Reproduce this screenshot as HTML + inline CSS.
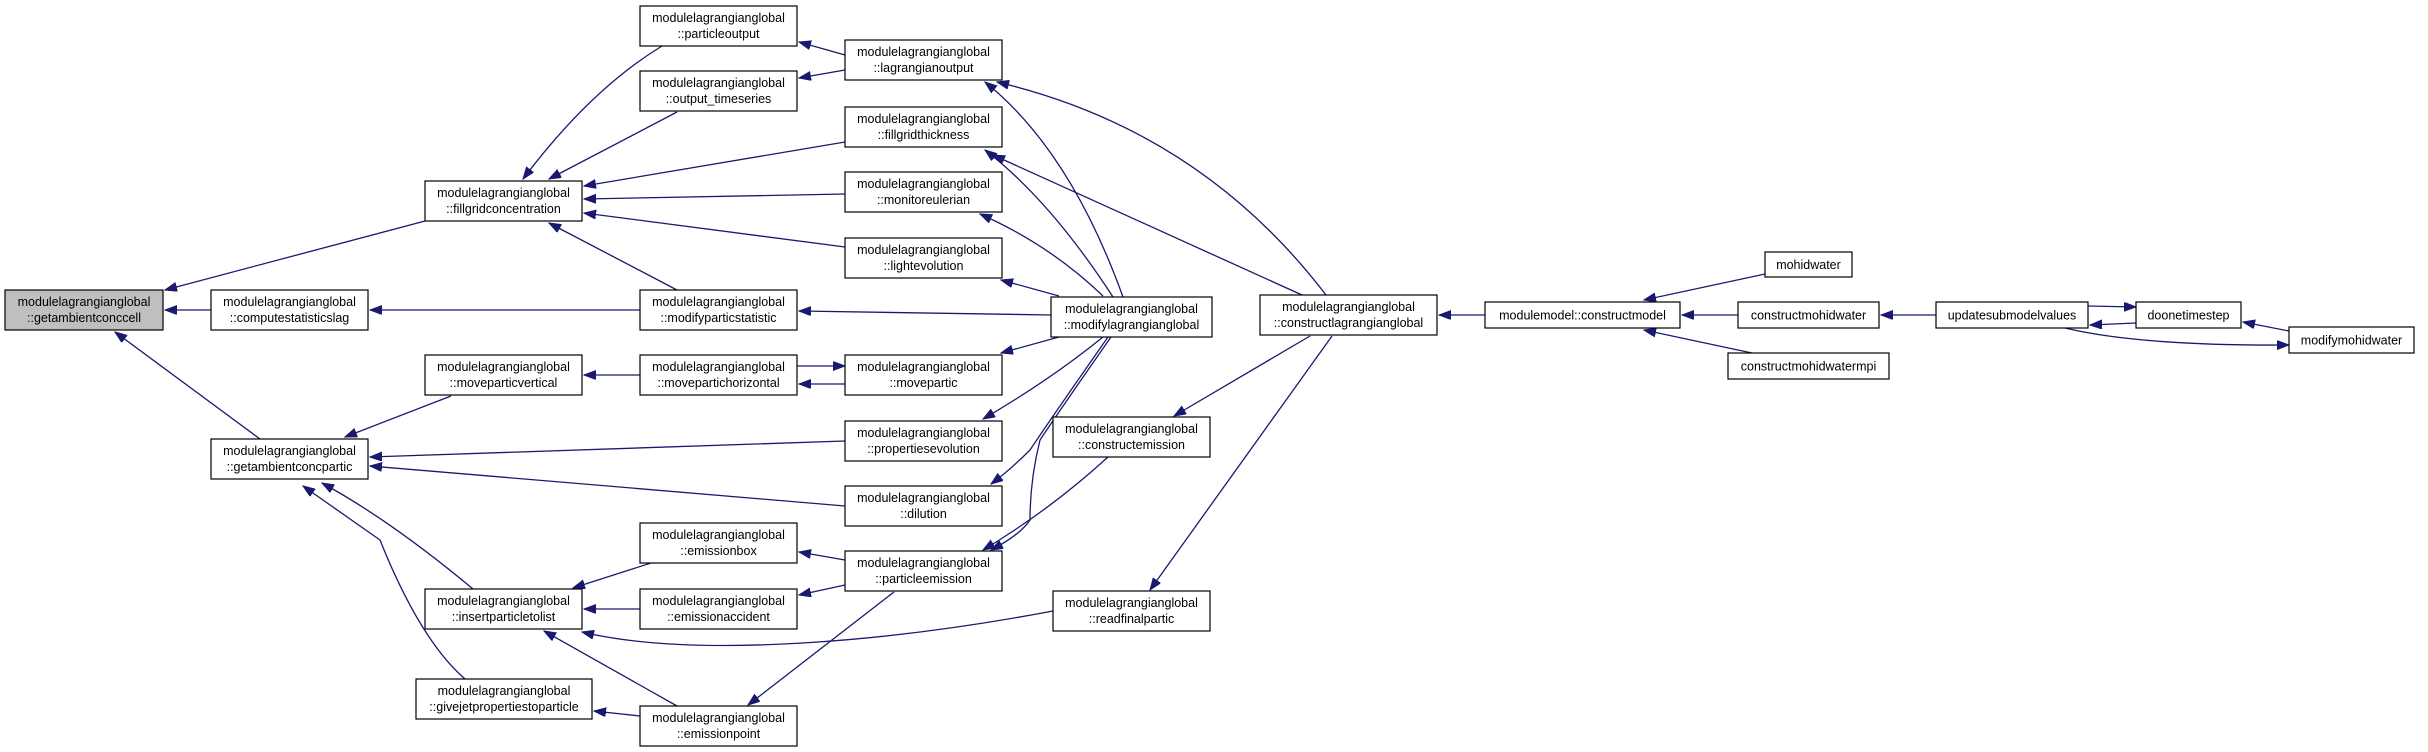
<!DOCTYPE html>
<html><head><meta charset="utf-8"><style>
html,body{margin:0;padding:0;background:#fff;}
svg{display:block;}
text{font-family:"Liberation Sans",Arial,sans-serif;font-size:12.5px;fill:#000;text-anchor:middle;}
.e{fill:none;stroke:#191970;stroke-width:1.3;marker-end:url(#a);}
rect{fill:#fff;stroke:#000;stroke-width:1.2;}
</style></head><body>
<svg width="2428" height="752" viewBox="0 0 2428 752" xmlns="http://www.w3.org/2000/svg">
<defs><marker id="a" markerUnits="userSpaceOnUse" markerWidth="13" markerHeight="10" refX="12" refY="4.5" orient="auto"><path d="M0,0 L12,4.5 L0,9 z" fill="#191970" stroke="#191970"/></marker></defs>
<g>
<path class="e" d="M211,310 L165,310"/>
<path class="e" d="M425,221 L165,290"/>
<path class="e" d="M260,439 L115,332"/>
<path class="e" d="M662,46 Q590,90 523,179"/>
<path class="e" d="M677,112 L549,179"/>
<path class="e" d="M845,142 L584,186"/>
<path class="e" d="M845,194 L584,199"/>
<path class="e" d="M845,247 L584,213"/>
<path class="e" d="M677,290 L549,223"/>
<path class="e" d="M640,310 L370,310"/>
<path class="e" d="M845,55 L799,42"/>
<path class="e" d="M845,70 L799,78"/>
<path class="e" d="M1123,297 Q1070,150 985,82"/>
<path class="e" d="M1113,297 Q1050,200 985,150"/>
<path class="e" d="M1302,295 L993,155"/>
<path class="e" d="M1326,295 Q1200,130 997,82"/>
<path class="e" d="M1103,296 Q1050,245 980,214"/>
<path class="e" d="M1059,296 L1001,280"/>
<path class="e" d="M1051,315 L799,311"/>
<path class="e" d="M1059,337 L1001,353"/>
<path class="e" d="M1103,337 Q1050,380 983,419"/>
<path class="e" d="M1108,337 Q1050,420 1030,450 Q1010,470 991,484"/>
<path class="e" d="M1111,337 Q1060,410 1040,440 Q1030,480 1030,520 Q1020,535 991,550"/>
<path class="e" d="M1310,336 L1174,416"/>
<path class="e" d="M1332,336 L1150,590"/>
<path class="e" d="M1108,457 Q1050,510 983,550"/>
<path class="e" d="M1485,315 L1439,315"/>
<path class="e" d="M1765,274 L1644,300"/>
<path class="e" d="M1738,315 L1682,315"/>
<path class="e" d="M1752,353 L1644,330"/>
<path class="e" d="M1936,315 L1881,315"/>
<path class="e" d="M2088,306 L2136,307"/>
<path class="e" d="M2136,323 L2090,325"/>
<path class="e" d="M2289,331 L2243,322"/>
<path class="e" d="M2065,328 Q2140,346 2289,345"/>
<path class="e" d="M640,375 L584,375"/>
<path class="e" d="M797,366 L845,366"/>
<path class="e" d="M845,384 L799,384"/>
<path class="e" d="M451,396 L345,437"/>
<path class="e" d="M845,441 L370,457"/>
<path class="e" d="M845,506 L370,466"/>
<path class="e" d="M473,589 Q390,520 322,483"/>
<path class="e" d="M465,679 Q420,640 380,540 L303,486"/>
<path class="e" d="M651,563 L573,588"/>
<path class="e" d="M640,609 L584,609"/>
<path class="e" d="M1053,611 C900,640 700,660 582,632"/>
<path class="e" d="M845,560 L799,552"/>
<path class="e" d="M845,585 L799,595"/>
<path class="e" d="M894,592 L748,705"/>
<path class="e" d="M677,706 L544,631"/>
<path class="e" d="M640,716 L594,711"/>
</g>
<g>
<rect x="5" y="290" width="158" height="40" style="fill:#bfbfbf"/><text x="84" y="306">modulelagrangianglobal</text><text x="84" y="322">::getambientconccell</text>
<rect x="211" y="290" width="157" height="40"/><text x="289.5" y="306">modulelagrangianglobal</text><text x="289.5" y="322">::computestatisticslag</text>
<rect x="425" y="181" width="157" height="40"/><text x="503.5" y="197">modulelagrangianglobal</text><text x="503.5" y="213">::fillgridconcentration</text>
<rect x="211" y="439" width="157" height="40"/><text x="289.5" y="455">modulelagrangianglobal</text><text x="289.5" y="471">::getambientconcpartic</text>
<rect x="640" y="6" width="157" height="40"/><text x="718.5" y="22">modulelagrangianglobal</text><text x="718.5" y="38">::particleoutput</text>
<rect x="640" y="71" width="157" height="40"/><text x="718.5" y="87">modulelagrangianglobal</text><text x="718.5" y="103">::output_timeseries</text>
<rect x="640" y="290" width="157" height="40"/><text x="718.5" y="306">modulelagrangianglobal</text><text x="718.5" y="322">::modifyparticstatistic</text>
<rect x="425" y="355" width="157" height="40"/><text x="503.5" y="371">modulelagrangianglobal</text><text x="503.5" y="387">::moveparticvertical</text>
<rect x="640" y="355" width="157" height="40"/><text x="718.5" y="371">modulelagrangianglobal</text><text x="718.5" y="387">::movepartichorizontal</text>
<rect x="640" y="523" width="157" height="40"/><text x="718.5" y="539">modulelagrangianglobal</text><text x="718.5" y="555">::emissionbox</text>
<rect x="425" y="589" width="157" height="40"/><text x="503.5" y="605">modulelagrangianglobal</text><text x="503.5" y="621">::insertparticletolist</text>
<rect x="640" y="589" width="157" height="40"/><text x="718.5" y="605">modulelagrangianglobal</text><text x="718.5" y="621">::emissionaccident</text>
<rect x="416" y="679" width="176" height="40"/><text x="504" y="695">modulelagrangianglobal</text><text x="504" y="711">::givejetpropertiestoparticle</text>
<rect x="640" y="706" width="157" height="40"/><text x="718.5" y="722">modulelagrangianglobal</text><text x="718.5" y="738">::emissionpoint</text>
<rect x="845" y="40" width="157" height="40"/><text x="923.5" y="56">modulelagrangianglobal</text><text x="923.5" y="72">::lagrangianoutput</text>
<rect x="845" y="107" width="157" height="40"/><text x="923.5" y="123">modulelagrangianglobal</text><text x="923.5" y="139">::fillgridthickness</text>
<rect x="845" y="172" width="157" height="40"/><text x="923.5" y="188">modulelagrangianglobal</text><text x="923.5" y="204">::monitoreulerian</text>
<rect x="845" y="238" width="157" height="40"/><text x="923.5" y="254">modulelagrangianglobal</text><text x="923.5" y="270">::lightevolution</text>
<rect x="845" y="355" width="157" height="40"/><text x="923.5" y="371">modulelagrangianglobal</text><text x="923.5" y="387">::movepartic</text>
<rect x="845" y="421" width="157" height="40"/><text x="923.5" y="437">modulelagrangianglobal</text><text x="923.5" y="453">::propertiesevolution</text>
<rect x="845" y="486" width="157" height="40"/><text x="923.5" y="502">modulelagrangianglobal</text><text x="923.5" y="518">::dilution</text>
<rect x="845" y="551" width="157" height="40"/><text x="923.5" y="567">modulelagrangianglobal</text><text x="923.5" y="583">::particleemission</text>
<rect x="1051" y="297" width="161" height="40"/><text x="1131.5" y="313">modulelagrangianglobal</text><text x="1131.5" y="329">::modifylagrangianglobal</text>
<rect x="1053" y="417" width="157" height="40"/><text x="1131.5" y="433">modulelagrangianglobal</text><text x="1131.5" y="449">::constructemission</text>
<rect x="1053" y="591" width="157" height="40"/><text x="1131.5" y="607">modulelagrangianglobal</text><text x="1131.5" y="623">::readfinalpartic</text>
<rect x="1260" y="295" width="177" height="40"/><text x="1348.5" y="311">modulelagrangianglobal</text><text x="1348.5" y="327">::constructlagrangianglobal</text>
<rect x="1485" y="302" width="195" height="26"/><text x="1582.5" y="319.5">modulemodel::constructmodel</text>
<rect x="1765" y="252" width="87" height="25"/><text x="1808.5" y="269">mohidwater</text>
<rect x="1738" y="302" width="141" height="26"/><text x="1808.5" y="319.5">constructmohidwater</text>
<rect x="1728" y="353" width="161" height="26"/><text x="1808.5" y="370.5">constructmohidwatermpi</text>
<rect x="1936" y="302" width="152" height="26"/><text x="2012" y="319.5">updatesubmodelvalues</text>
<rect x="2136" y="302" width="105" height="26"/><text x="2188.5" y="319.5">doonetimestep</text>
<rect x="2289" y="327" width="125" height="26"/><text x="2351.5" y="344.5">modifymohidwater</text>
</g>
</svg>
</body></html>
